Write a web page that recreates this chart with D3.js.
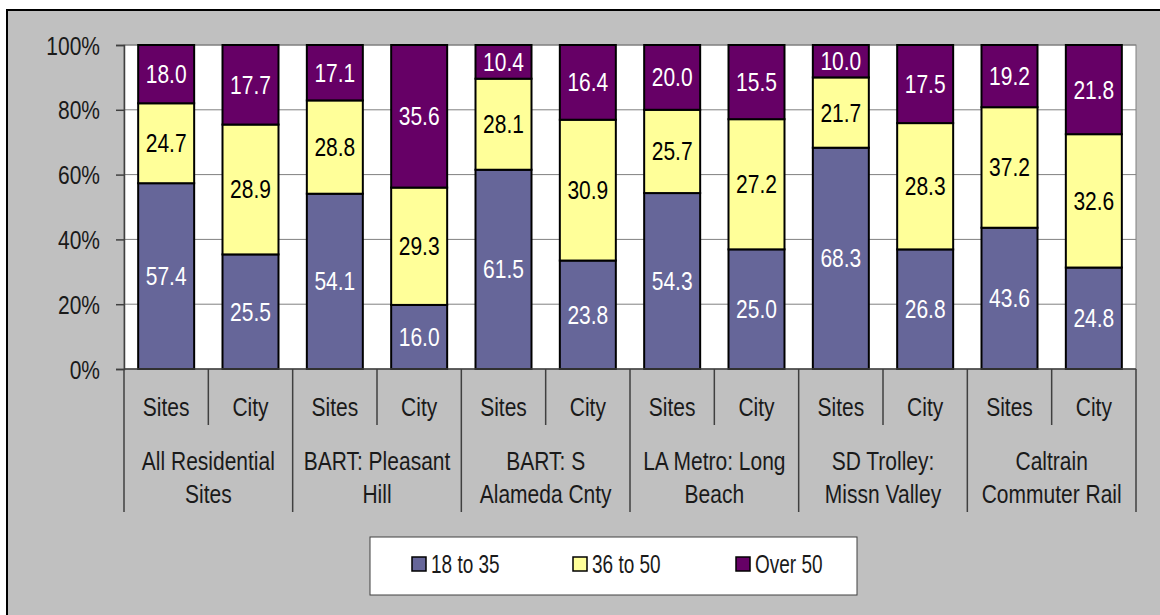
<!DOCTYPE html>
<html>
<head>
<meta charset="utf-8">
<script src="https://cdn.jsdelivr.net/npm/d3@7"></script>
<style>
  body { margin: 0; background: #fff; }
  svg { display: block; }
  text { font-family: "Liberation Sans Narrow", "Arial Narrow", "Liberation Sans", sans-serif; }
</style>
</head>
<body>
<svg id="chart"></svg>
<script>
// group labels (two lines each) and the two bars inside each group
const groups = [
    ["All Residential", "Sites"],
    ["BART: Pleasant", "Hill"],
    ["BART: S", "Alameda Cnty"],
    ["LA Metro: Long", "Beach"],
    ["SD Trolley:", "Missn Valley"],
    ["Caltrain", "Commuter Rail"]
];
const kinds = ["Sites", "City"];

// series values, one per bar (Sites, City, Sites, City, ...)
const age18to35 = [57.4, 25.5, 54.1, 16.0, 61.5, 23.8, 54.3, 25.0, 68.3, 26.8, 43.6, 24.8];
const age36to50 = [24.7, 28.9, 28.8, 29.3, 28.1, 30.9, 25.7, 27.2, 21.7, 28.3, 37.2, 32.6];
const ageOver50 = [18.0, 17.7, 17.1, 35.6, 10.4, 16.4, 20.0, 15.5, 10.0, 17.5, 19.2, 21.8];

const seriesNames = ["18 to 35", "36 to 50", "Over 50"];
const seriesColors = ["#666699", "#ffff99", "#660066"];
const labelColors = ["#ffffff", "#000000", "#ffffff"];
const yTicks = [0, 0.2, 0.4, 0.6, 0.8, 1];

const W = 1160, H = 615;
const plot = { left: 124, right: 1136, top: 45, bottom: 369 };
const NARROW = 0.84;   // no Arial Narrow here, so squeeze Liberation Sans
const FS = 25;

const svg = d3.select("#chart")
    .attr("width", W)
    .attr("height", H);

// place a text at (x, y) squeezed horizontally
const narrow = (sel, fx, fy, k = NARROW) => sel
    .attr("transform", (d, i) => `translate(${fx(d, i)},${fy(d, i)}) scale(${k},1)`)
    .attr("font-size", FS);

// background + outer frame
svg.append("rect")
    .attr("width", W).attr("height", H)
    .attr("fill", "#fff");
svg.append("rect")
    .attr("x", 7).attr("y", 10)
    .attr("width", W + 10).attr("height", H + 10)
    .attr("fill", "#c0c0c0")
    .attr("stroke", "#000")
    .attr("stroke-width", 2);

const rows = age18to35.map((v, i) => ({
    id: i,
    group: Math.floor(i / 2),
    kind: kinds[i % 2],
    s0: v,
    s1: age36to50[i],
    s2: ageOver50[i]
}));

const stacked = d3.stack()
    .keys(["s0", "s1", "s2"])
    .offset(d3.stackOffsetExpand)(rows);

const x = d3.scaleBand()
    .domain(rows.map(d => d.id))
    .range([plot.left, plot.right])
    .paddingInner(0.336)
    .paddingOuter(0.168);

const xGroup = d3.scaleBand()
    .domain(groups.map((g, i) => i))
    .range([plot.left, plot.right]);

const y = d3.scaleLinear()
    .domain([0, 1])
    .range([plot.bottom, plot.top]);

// plot area
svg.append("rect")
    .attr("x", plot.left).attr("y", plot.top)
    .attr("width", plot.right - plot.left)
    .attr("height", plot.bottom - plot.top)
    .attr("fill", "#fff")
    .attr("stroke", "#808080")
    .attr("stroke-width", 1);

// gridlines
svg.append("g")
    .selectAll("line")
    .data(yTicks.slice(1))
    .join("line")
        .attr("x1", plot.left).attr("x2", plot.right)
        .attr("y1", d => y(d)).attr("y2", d => y(d))
        .attr("stroke", "#808080")
        .attr("stroke-width", 1);

// y axis
const yAxis = svg.append("g")
    .attr("transform", `translate(${plot.left},0)`)
    .call(d3.axisLeft(y)
        .tickValues(yTicks)
        .tickFormat(d3.format(".0%"))
        .tickSize(8)
        .tickPadding(24));
yAxis.select(".domain").attr("stroke", "#404040").attr("stroke-width", 1.5);
yAxis.selectAll(".tick line").attr("stroke", "#404040").attr("stroke-width", 1.5);
yAxis.selectAll(".tick text")
    .attr("x", 0).attr("dy", "0.36em")
    .attr("fill", "#1a1a1a")
    .attr("font-family", null)
    .call(narrow, () => -24, () => 0);

// bars
const layers = svg.append("g")
    .selectAll("g")
    .data(stacked)
    .join("g")
        .attr("fill", (d, i) => seriesColors[i]);

layers.selectAll("rect")
    .data(d => d)
    .join("rect")
        .attr("x", d => x(d.data.id))
        .attr("width", x.bandwidth())
        .attr("y", d => y(d[1]))
        .attr("height", d => y(d[0]) - y(d[1]))
        .attr("stroke", "#000")
        .attr("stroke-width", 2);

// segment value labels
layers.each(function (layer, li) {
    d3.select(this).selectAll("text")
        .data(layer)
        .join("text")
            .attr("dy", "0.36em")
            .attr("text-anchor", "middle")
            .attr("fill", labelColors[li])
            .call(narrow,
                d => x(d.data.id) + x.bandwidth() / 2,
                d => y((d[0] + d[1]) / 2))
            .text(d => d3.format(".1f")(d.data[layer.key]));
});

// category axis: inner ticks, group separators, labels
const catAxis = svg.append("g").attr("stroke", "#404040").attr("stroke-width", 1.5);
catAxis.append("line")
    .attr("x1", plot.left).attr("x2", plot.right)
    .attr("y1", plot.bottom).attr("y2", plot.bottom);
catAxis.selectAll(".inner")
    .data(groups.map((g, i) => i))
    .join("line")
        .attr("class", "inner")
        .attr("x1", d => xGroup(d) + xGroup.bandwidth() / 2)
        .attr("x2", d => xGroup(d) + xGroup.bandwidth() / 2)
        .attr("y1", plot.bottom).attr("y2", 425);
catAxis.selectAll(".outer")
    .data(d3.range(groups.length + 1))
    .join("line")
        .attr("class", "outer")
        .attr("x1", d => plot.left + d * xGroup.step())
        .attr("x2", d => plot.left + d * xGroup.step())
        .attr("y1", plot.bottom).attr("y2", 512);

svg.append("g")
    .selectAll("text")
    .data(rows)
    .join("text")
        .attr("dy", "0.36em")
        .attr("text-anchor", "middle")
        .attr("fill", "#1a1a1a")
        .call(narrow, d => x(d.id) + x.bandwidth() / 2, () => 407)
        .text(d => d.kind);

const groupLabels = svg.append("g")
    .selectAll("text")
    .data(groups)
    .join("text")
        .attr("text-anchor", "middle")
        .attr("fill", "#1a1a1a")
        .call(narrow, (d, i) => xGroup(i) + xGroup.bandwidth() / 2, () => 0);
groupLabels.selectAll("tspan")
    .data(d => d)
    .join("tspan")
        .attr("x", 0)
        .attr("y", (d, j) => 461 + j * 33)
        .attr("dy", "0.36em")
        .text(d => d);

// legend
const legend = svg.append("g");
legend.append("rect")
    .attr("x", 370).attr("y", 537)
    .attr("width", 487).attr("height", 58)
    .attr("fill", "#fff")
    .attr("stroke", "#404040")
    .attr("stroke-width", 1);

const legendX = [412, 573, 736];
const items = legend.selectAll(".item")
    .data(seriesNames)
    .join("g")
        .attr("class", "item")
        .attr("transform", (d, i) => `translate(${legendX[i]},557)`);
items.append("rect")
    .attr("width", 14).attr("height", 14)
    .attr("fill", (d, i) => seriesColors[i])
    .attr("stroke", "#000")
    .attr("stroke-width", 1.5);
items.append("text")
    .attr("dy", "0.36em")
    .attr("fill", "#1a1a1a")
    .call(narrow, () => 19, () => 7, 0.76)
    .text(d => d);
</script>
</body>
</html>
